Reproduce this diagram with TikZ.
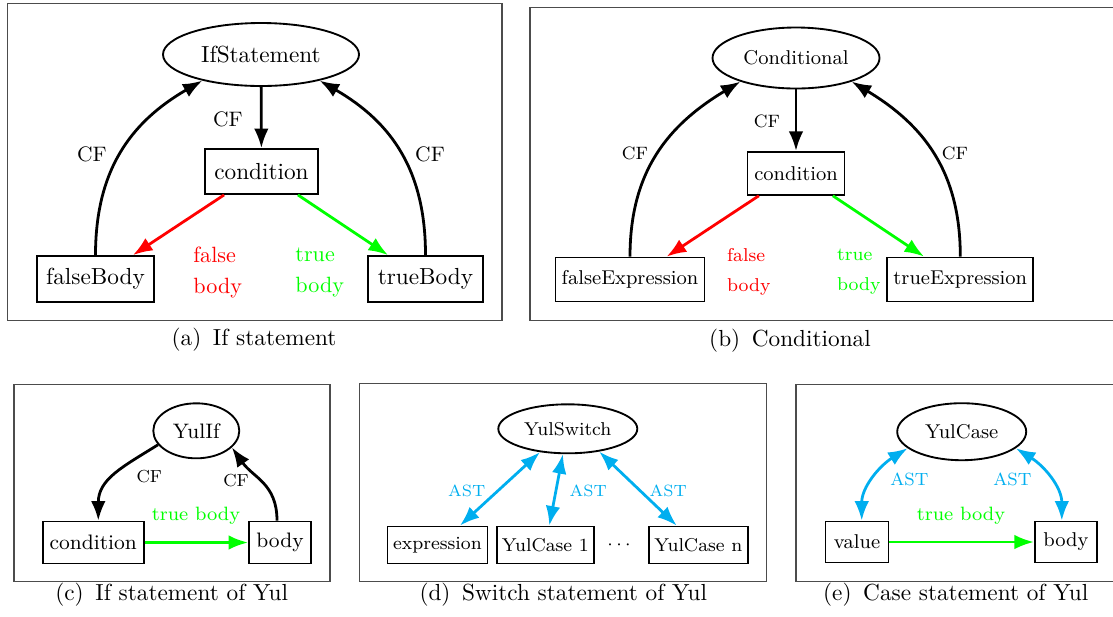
\documentclass[tikz,border=0pt]{standalone}
\usepackage{fontspec}
\usetikzlibrary{arrows.meta,shapes.geometric,calc}
\definecolor{astblue}{RGB}{0,174,239}
\definecolor{tgreen}{RGB}{0,255,0}
\definecolor{fred}{RGB}{255,0,0}
\newcommand\fsz[2]{\fontsize{#1}{#2}\selectfont}

\begin{document}
\begin{tikzpicture}[x=0.43pt,y=-0.43pt,
  box/.style={draw, thick, rectangle, inner sep=0pt},
  oval/.style={draw, thick, ellipse, inner sep=0pt},
  sz/.style 2 args={minimum width=#1*0.43pt, minimum height=#2*0.43pt},
  arr/.style={very thick, -Latex},
  dbl/.style={very thick, Latex-Latex, draw=astblue},
  panel/.style={draw=black!70, line width=0.5pt},
  lbl/.style={inner sep=0pt},
  captxt/.style={inner sep=0pt, font=\fsz{10}{12}},
]
\useasboundingbox (0,0) rectangle (1113,616);

% panel frames
\draw[panel] (7.3,3.3) rectangle (502,320.7);
\draw[panel] (530,7.3) rectangle (1125,320.7);
\draw[panel] (14,384.3) rectangle (330,581.7);
\draw[panel] (359.3,383.3) rectangle (766.7,581.7);
\draw[panel] (796,384.3) rectangle (1125,581.7);

% ---------- (a) If statement ----------
\begin{scope}[every node/.append style={font=\fsz{10}{12}}]
\node[oval, sz={196}{63}] (ifs) at (261,54.5) {IfStatement};
\node[box, sz={113}{45}] (acond) at (261.5,171.5) {condition};
\node[box, sz={117}{46}] (afb) at (95.5,279) {falseBody};
\node[box, sz={115}{46}] (atb) at (425.5,279) {trueBody};
\end{scope}
\draw[arr] (ifs) -- (acond);
\draw[arr] (afb.north) to[out=90,in=210,looseness=1.05] (ifs.204);
\draw[arr] (atb.north) to[out=90,in=-30,looseness=1.05] (ifs.336);
\draw[arr, fred] ($(acond.south west)+(20,0)$) -- ($(afb.north)+(37.5,0)$);
\draw[arr, tgreen] ($(acond.south east)+(-21,0)$) -- ($(atb.north)+(-37.5,0)$);
\node[lbl, font=\fsz{9}{11}] (acf0) at (228,119) {CF};
\node[lbl, font=\fsz{9}{11}] (acf1) at (92,154) {CF};
\node[lbl, font=\fsz{9}{11}] (acf2) at (430,154) {CF};
\node[lbl, anchor=west, align=left, text=fred, font=\fsz{9.5}{13.6}] (afalse) at (193,272.5) {false\\body};
\node[lbl, anchor=west, align=left, text=tgreen, font=\fsz{9.5}{13.6}] (atrue) at (295,272.5) {true\\body};
\node[captxt] (capa) at (254,340) {(a)\enspace If statement};

% ---------- (b) Conditional ----------
\begin{scope}[every node/.append style={font=\fsz{8.6}{10.5}}]
\node[oval, sz={167}{61}] (cnd) at (796,58) {Conditional};
\node[box, sz={97}{43}] (bcond) at (796,173.3) {condition};
\node[box, sz={149}{44}] (bfe) at (630,279.5) {falseExpression};
\node[box, sz={146}{44}] (bte) at (960.3,279.5) {trueExpression};
\end{scope}
\draw[arr] (cnd) -- (bcond);
\draw[arr] (bfe.north) to[out=90,in=211,looseness=1.05] (cnd.203);
\draw[arr] (bte.north) to[out=90,in=-31,looseness=1.05] (cnd.337);
\draw[arr, fred] ($(bcond.south west)+(12.3,0)$) -- ($(bfe.north)+(36.7,0)$);
\draw[arr, tgreen] ($(bcond.south east)+(-12.6,0)$) -- ($(bte.north)+(-36.3,0)$);
\node[lbl, font=\fsz{7.7}{9.5}] (bcf0) at (767,121) {CF};
\node[lbl, font=\fsz{7.7}{9.5}] (bcf1) at (635,153.3) {CF};
\node[lbl, font=\fsz{7.7}{9.5}] (bcf2) at (955,153) {CF};
\node[lbl, anchor=west, align=left, text=fred, font=\fsz{8}{13}] (bfalse) at (726.7,272) {false\\body};
\node[lbl, anchor=west, align=left, text=tgreen, font=\fsz{8}{13}] (btrue) at (836.7,272) {true\\body};
\node[captxt] (capb) at (790,340.7) {(b)\enspace Conditional};

% ---------- (c) If statement of Yul ----------
\begin{scope}[every node/.append style={font=\fsz{9}{11}}]
\node[oval, sz={86}{55}] (yif) at (196.3,430.8) {YulIf};
\node[box, sz={101}{42}] (ccond) at (93.3,542.5) {condition};
\node[box, sz={62}{42}] (cbody) at (280,542.5) {body};
\end{scope}
\draw[arr] (yif.200) to[out=212,in=90,looseness=1.1] ($(ccond.north)+(5,0)$);
\draw[arr] ($(cbody.north)+(-3,0)$) to[out=90,in=-55,looseness=1.1] (yif.335);
\draw[arr, tgreen] (ccond) -- (cbody);
\node[lbl, font=\fsz{7.5}{9}] (ccf1) at (149.3,476.7) {CF};
\node[lbl, font=\fsz{7.5}{9}] (ccf2) at (236,481) {CF};
\node[lbl, text=tgreen, font=\fsz{8.3}{10}] (ctrue) at (196,515.7) {true body};
\node[captxt] (capc) at (171.7,595) {(c)\enspace If statement of Yul};

% ---------- (d) Switch statement of Yul ----------
\begin{scope}[every node/.append style={font=\fsz{8}{10}}]
\node[oval, sz={139}{49}] (ysw) at (567.8,428.8) {YulSwitch};
\node[box, sz={100}{37}] (dexp) at (437.5,545) {expression};
\node[box, sz={97}{37}] (dc1) at (545.3,545) {YulCase 1};
\node[lbl] (ddots) at (619,545) {$\cdots$};
\node[box, sz={99}{37}] (dcn) at (698.3,545) {YulCase n};
\end{scope}
\draw[dbl] (ysw.220) -- ($(dexp.north)+(22.5,0)$);
\draw[dbl] (ysw.259) -- ($(dc1.north)+(4,0)$);
\draw[dbl] (ysw.324) -- ($(dcn.north)+(-21.6,0)$);
\node[lbl, text=astblue, font=\fsz{7}{9}] (dast1) at (466.7,491) {AST};
\node[lbl, text=astblue, font=\fsz{7}{9}] (dast2) at (588.3,491) {AST};
\node[lbl, text=astblue, font=\fsz{7}{9}] (dast3) at (668.3,491) {AST};
\node[captxt] (capd) at (563.3,595) {(d)\enspace Switch statement of Yul};

% ---------- (e) Case statement of Yul ----------
\begin{scope}[every node/.append style={font=\fsz{8.6}{10}}]
\node[oval, sz={129}{57}] (ycase) at (961.7,431.7) {YulCase};
\node[box, sz={63}{41}] (evalue) at (857,542) {value};
\node[box, sz={62}{41}] (ebody) at (1065.8,542) {body};
\end{scope}
\draw[dbl] (ycase.197) to[out=212,in=90] ($(evalue.north)+(4.7,0)$);
\draw[dbl] (ycase.343) to[out=-32,in=90] ($(ebody.north)+(-4,0)$);
\draw[arr, tgreen] (evalue) -- (ebody);
\node[lbl, text=astblue, font=\fsz{7.6}{9}] (east1) at (909.3,479.3) {AST};
\node[lbl, text=astblue, font=\fsz{7.6}{9}] (east2) at (1012.3,479.3) {AST};
\node[lbl, text=tgreen, font=\fsz{8.3}{10}] (etrue) at (961,515.7) {true body};
\node[captxt] (cape) at (955.7,595) {(e)\enspace Case statement of Yul};
\end{tikzpicture}
\end{document}
